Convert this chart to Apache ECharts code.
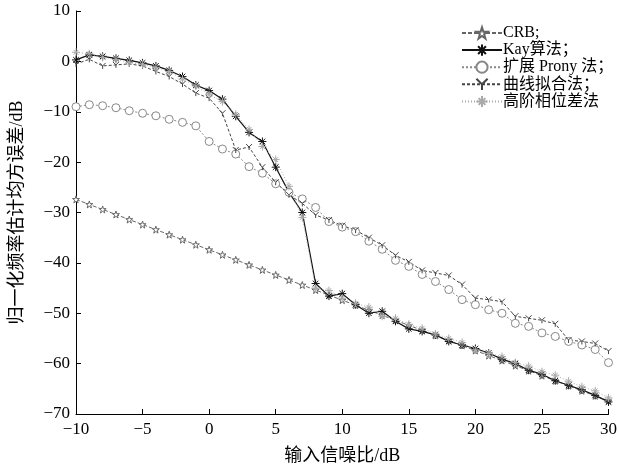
<!DOCTYPE html>
<html><head><meta charset="utf-8">
<script src="https://cdn.jsdelivr.net/npm/echarts@6/dist/echarts.min.js"></script>
<style>html,body{margin:0;padding:0;background:#fff}#c{width:620px;height:474px}</style>
</head><body><div id="c"></div>
<script>
const snr = [-10,-9,-8,-7,-6,-5,-4,-3,-2,-1,0,1,2,3,4,5,6,7,8,9,10,11,12,13,14,15,16,17,18,19,20,21,22,23,24,25,26,27,28,29,30];
const crb = [-27.4,-28.4,-29.4,-30.4,-31.4,-32.4,-33.4,-34.4,-35.4,-36.4,-37.4,-38.4,-39.4,-40.4,-41.4,-42.4,-43.4,-44.4,-45.4,-46.4,-47.4,-48.4,-49.4,-50.4,-51.4,-52.4,-53.4,-54.4,-55.4,-56.4,-57.4,-58.4,-59.4,-60.4,-61.4,-62.4,-63.4,-64.4,-65.4,-66.4,-67.4];
const kay = [0.3,1.3,1.0,0.6,0.2,-0.3,-0.9,-1.8,-3.0,-4.7,-5.8,-7.5,-10.9,-14.1,-15.9,-21.0,-26.0,-30.0,-44.1,-46.6,-46.1,-48.3,-50.0,-49.6,-51.6,-53.1,-53.6,-54.3,-55.6,-56.3,-57.0,-57.9,-59.1,-60.0,-61.3,-62.1,-63.4,-64.3,-65.2,-66.3,-67.6];
const prony = [-9.0,-8.6,-8.8,-9.2,-9.8,-10.3,-10.8,-11.5,-12.1,-12.8,-15.9,-17.4,-18.4,-20.9,-22.2,-24.3,-26.0,-27.3,-29.0,-31.8,-32.9,-33.8,-35.7,-37.3,-39.5,-40.7,-42.3,-43.7,-45.3,-47.3,-48.3,-49.3,-50.0,-52.0,-52.6,-53.9,-54.6,-55.6,-56.3,-57.2,-59.8];
const curveFit = [-0.5,0.4,-0.9,-0.7,-0.5,-0.9,-2.0,-3.0,-4.5,-6.3,-7.3,-10.3,-17.6,-17.0,-21.0,-24.0,-26.5,-28.2,-30.5,-31.5,-32.6,-33.5,-35.0,-36.5,-38.5,-39.8,-41.5,-42.0,-42.5,-44.3,-47.0,-47.3,-47.7,-50.6,-51.0,-51.4,-52.1,-55.3,-55.6,-56.0,-57.5];
const highOrder = [1.8,1.5,0.8,0.4,-0.2,-0.6,-1.2,-2.0,-3.5,-4.9,-6.6,-8.0,-10.5,-13.5,-16.9,-19.5,-24.8,-31.0,-45.0,-45.5,-47.0,-48.0,-48.8,-50.6,-51.0,-52.2,-53.0,-54.1,-55.0,-55.8,-57.3,-58.0,-58.6,-59.8,-60.5,-61.6,-62.3,-63.5,-64.6,-65.4,-66.8];
const names = ['CRB;', 'Kay算法；', '扩展 Prony 法；', '曲线拟合法；', '高阶相位差法'];
const xTicks = {min: -10, max: 30, step: 5};
const yTicks = {min: -70, max: 10, step: 10};

const star = 'path://M5,0 L6.2,3.6 L10,3.6 L6.9,5.8 L8.1,9.5 L5,7.3 L1.9,9.5 L3.1,5.8 L0,3.6 L3.8,3.6 Z';
const aster = 'path://M0,5 L10,5 M5,0 L5,10 M1.5,1.5 L8.5,8.5 M8.5,1.5 L1.5,8.5';
const plus = 'path://M0,5 L10,5 M5,0 L5,10 M2,2 L8,8 M8,2 L2,8';
const tri = 'path://M5,10 L5,5 L0,0 M5,5 L10,0';
const font = '"Liberation Serif","Noto Sans CJK SC",serif';
const minus = v => String(v).replace('-', '\u2212');

function mk(name, data, color, type, width, symbol, size, fill) {
  return {
    name, type: 'line', data: snr.map((x, i) => [x, data[i]]),
    symbol, symbolSize: size, showSymbol: true,
    lineStyle: {color, width, type},
    itemStyle: {color: fill, borderColor: color, borderWidth: 1},
    emphasis: {disabled: true}
  };
}

const chart = echarts.init(document.getElementById('c'));
chart.setOption({
  animation: false,
  backgroundColor: '#fff',
  grid: {left: 76, right: 11, top: 11, bottom: 60},
  legend: {
    orient: 'vertical', left: 456, top: 20,
    itemWidth: 40, itemHeight: 14, itemGap: 1,
    textStyle: {fontFamily: font, fontSize: 16, color: '#000', padding: [0,0,0,-4]},
    data: names
  },
  xAxis: {
    type: 'value', min: xTicks.min, max: xTicks.max, interval: xTicks.step,
    name: '输入信噪比/dB', nameLocation: 'middle', nameGap: 33,
    nameTextStyle: {fontFamily: font, fontSize: 18, color: '#000'},
    axisLine: {onZero: false, lineStyle: {color: '#000', width: 1}},
    axisTick: {inside: true, length: 5, lineStyle: {color: '#000'}},
    axisLabel: {fontFamily: font, fontSize: 17, color: '#000', margin: 7, formatter: minus},
    splitLine: {show: false}
  },
  yAxis: {
    type: 'value', min: yTicks.min, max: yTicks.max, interval: yTicks.step,
    name: '归一化频率估计均方误差/dB', nameLocation: 'middle', nameGap: 50,
    nameTextStyle: {fontFamily: font, fontSize: 18, color: '#000'},
    axisLine: {show: true, onZero: false, lineStyle: {color: '#000', width: 1}},
    axisTick: {show: true, inside: true, length: 5, lineStyle: {color: '#000'}},
    axisLabel: {fontFamily: font, fontSize: 17, color: '#000', margin: 6, formatter: minus},
    splitLine: {show: false}
  },
  series: [
    mk(names[0], crb, '#666', [4, 2], 1, star, 7, '#fff'),
    mk(names[1], kay, '#111', 'solid', 1.2, aster, 8, 'none'),
    mk(names[2], prony, '#888', [2, 2], 1, 'circle', 8, '#fff'),
    mk(names[3], curveFit, '#444', [3, 2], 1, tri, 6, 'none'),
    mk(names[4], highOrder, '#aaa', [1, 2], 1, plus, 8, 'none')
  ]
});
</script></body></html>
